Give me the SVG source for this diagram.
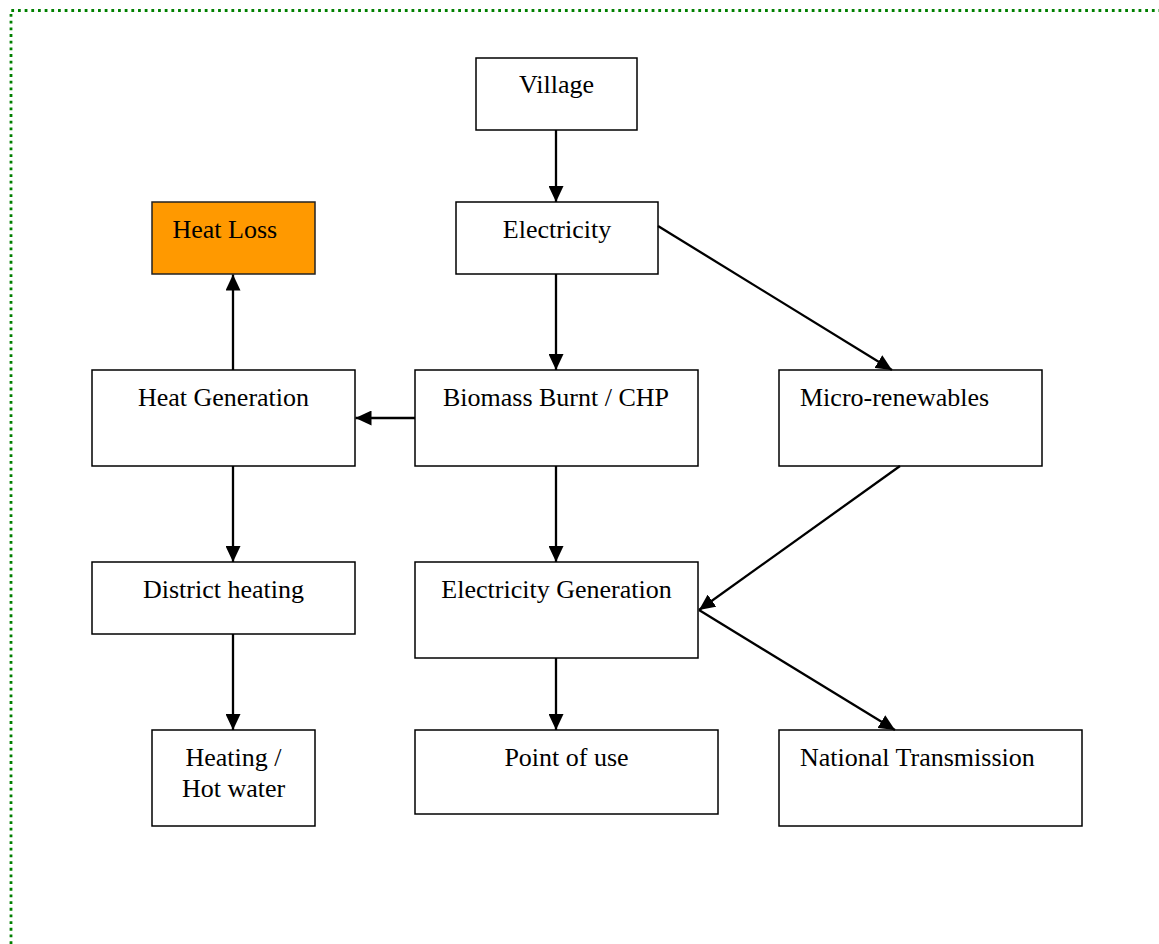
<svg xmlns="http://www.w3.org/2000/svg" width="1159" height="944" viewBox="0 0 1159 944">
<style>
.box{fill:#fff;stroke:#000;stroke-width:1.5}
.hl{fill:#ff9900;stroke:#222;stroke-width:1.5}
text{font-family:"Liberation Serif","Times New Roman",serif;font-size:26px;fill:#000}
.c{text-anchor:middle}
.conn line{stroke:#000;stroke-width:2.3;marker-end:url(#ah)}
.border{fill:none;stroke:#008000;stroke-width:2.8;stroke-dasharray:2.8 3.87}
</style>
<defs>
<marker id="ah" markerUnits="userSpaceOnUse" markerWidth="16" markerHeight="15" refX="16" refY="7.5" orient="auto" viewBox="0 0 16 15">
<path d="M0,0 L16,7.5 L0,15 z" fill="#000"/>
</marker>
</defs>
<rect width="1159" height="944" fill="#fff"/>
<path class="border" d="M11,944 L11,10.5 L1159,10.5"/>
<g id="village"><rect class="box" x="476" y="58" width="161" height="72"/><text class="c" x="556.5" y="93">Village</text></g>
<g id="electricity"><rect class="box" x="456" y="202" width="202" height="72"/><text class="c" x="557" y="238">Electricity</text></g>
<g id="heat-loss"><rect class="hl" x="152" y="202" width="163" height="72"/><text x="172.5" y="238">Heat Loss</text></g>
<g id="heat-generation"><rect class="box" x="92" y="370" width="263" height="96"/><text class="c" x="223.5" y="406">Heat Generation</text></g>
<g id="biomass"><rect class="box" x="415" y="370" width="283" height="96"/><text class="c" x="556" y="406">Biomass Burnt / CHP</text></g>
<g id="micro-renewables"><rect class="box" x="779" y="370" width="263" height="96"/><text x="800" y="406">Micro-renewables</text></g>
<g id="district-heating"><rect class="box" x="92" y="562" width="263" height="72"/><text class="c" x="223.5" y="598">District heating</text></g>
<g id="electricity-generation"><rect class="box" x="415" y="562" width="283" height="96"/><text class="c" x="556.5" y="598">Electricity Generation</text></g>
<g id="heating-hot-water"><rect class="box" x="152" y="730" width="163" height="96"/><text class="c" x="233.5" y="766">Heating /</text><text class="c" x="233.5" y="797">Hot water</text></g>
<g id="point-of-use"><rect class="box" x="415" y="730" width="303" height="84"/><text class="c" x="566.5" y="766">Point of use</text></g>
<g id="national-transmission"><rect class="box" x="779" y="730" width="303" height="96"/><text x="800" y="766">National Transmission</text></g>
<g class="conn" id="connectors">
<line x1="556" y1="130" x2="556" y2="202"/>
<line x1="556" y1="274" x2="556" y2="370"/>
<line x1="658" y1="226" x2="892" y2="370"/>
<line x1="415" y1="418" x2="355.5" y2="418"/>
<line x1="233" y1="370" x2="233" y2="274.5"/>
<line x1="233" y1="466" x2="233" y2="562"/>
<line x1="556" y1="466" x2="556" y2="562"/>
<line x1="900" y1="466" x2="699" y2="610"/>
<line x1="699" y1="610" x2="895" y2="730"/>
<line x1="556" y1="658" x2="556" y2="730"/>
<line x1="233" y1="634" x2="233" y2="730"/>
</g>
</svg>
